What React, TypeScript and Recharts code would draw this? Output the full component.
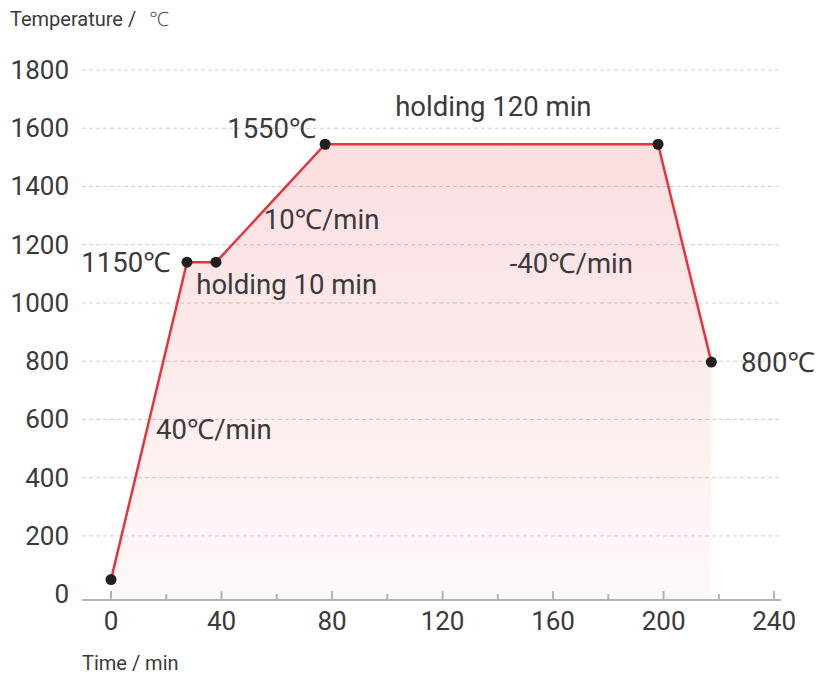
import React from 'react';
import { ComposedChart, Area, Line, XAxis, YAxis, CartesianGrid, ReferenceDot } from 'recharts';

const timeMin = [0, 27.5, 38, 77.5, 198, 217.3];
const tempC = [50, 1140, 1140, 1545, 1545, 797];

const xTicks = [0, 20, 40, 60, 80, 100, 120, 140, 160, 180, 200, 220, 240];
const yTicks = [0, 200, 400, 600, 800, 1000, 1200, 1400, 1600, 1800];
const gridValues = [200, 400, 600, 800, 1000, 1200, 1400, 1600, 1800];

const noteText = ['1550℃', 'holding 120 min', '10℃/min', '-40℃/min', '1150℃', 'holding 10 min', '40℃/min', '800℃'];
const noteX = [58.2, 138.4, 76.2, 166.6, 5.4, 63.6, 37.2, 241.4];
const noteY = [1599, 1675, 1288, 1137, 1140, 1065, 565, 795];

const data = timeMin.map((t, i) => ({ t, temp: tempC[i] }));
const notes = noteText.map((text, i) => ({ text, x: noteX[i], y: noteY[i] }));

const FONT = 'Roboto, "Noto Sans", sans-serif';
const TEXT = '#3a3a3a';

const XTick = (props: any) => {
  const { x, y, payload } = props;
  const major = payload.value % 40 === 0;
  return (
    <g>
      <line x1={x} x2={x} y1={y} y2={y - (major ? 9 : 6)} stroke="#b3b3b3" strokeWidth={2} />
      {major && (
        <text x={x} y={y + 21} textAnchor="middle" dominantBaseline="central" fontSize={26} fill={TEXT} fontFamily={FONT}>
          {payload.value}
        </text>
      )}
    </g>
  );
};

const YTick = (props: any) => {
  const { y, payload } = props;
  return (
    <text x={69} y={y} textAnchor="end" dominantBaseline="central" fontSize={26} fill={TEXT} fontFamily={FONT}>
      {payload.value}
    </text>
  );
};

export default function App() {
  return (
    <div style={{ position: 'absolute', left: 0, top: 0, width: 819, height: 678, background: '#fff', fontFamily: FONT }}>
      <div style={{ position: 'absolute', left: 10, top: 6, fontSize: 20, color: TEXT, lineHeight: '26px', whiteSpace: 'nowrap' }}>
        Temperature / <span style={{ marginLeft: 8, fontWeight: 300, color: '#555' }}>℃</span>
      </div>
      <div style={{ position: 'absolute', left: 82, top: 650, fontSize: 20, color: TEXT, lineHeight: '26px', whiteSpace: 'nowrap' }}>
        Time / min
      </div>
      <ComposedChart width={819} height={678} data={data} margin={{ top: 70, right: 38, bottom: 0, left: 0 }}>
        <defs>
          <linearGradient id="heatFill" x1="0" y1="0" x2="0" y2="1">
            <stop offset="0%" stopColor="rgb(230,50,60)" stopOpacity={0.16} />
            <stop offset="100%" stopColor="rgb(230,50,60)" stopOpacity={0.03} />
          </linearGradient>
        </defs>
        <CartesianGrid vertical={false} horizontalValues={gridValues} stroke="#cfcfcf" strokeDasharray="4 3" />
        <XAxis
          dataKey="t"
          type="number"
          domain={[-10.5, 242.5]}
          ticks={xTicks}
          interval={0}
          height={78}
          tickSize={0}
          tickMargin={0}
          tickLine={false}
          axisLine={{ stroke: '#b3b3b3', strokeWidth: 2 }}
          tick={<XTick />}
        />
        <YAxis
          type="number"
          domain={[-20, 1800]}
          ticks={yTicks}
          interval={0}
          width={82}
          axisLine={false}
          tickLine={false}
          tick={<YTick />}
        />
        <Area
          type="linear"
          dataKey="temp"
          baseValue="dataMin"
          stroke="none"
          fill="url(#heatFill)"
          fillOpacity={1}
          isAnimationActive={false}
          activeDot={false}
        />
        <Line
          type="linear"
          dataKey="temp"
          stroke="#e8333d"
          strokeWidth={2.5}
          dot={{ r: 5.5, fill: '#231f20', stroke: 'none' }}
          activeDot={false}
          isAnimationActive={false}
        />
        {notes.map((n) => (
          <ReferenceDot
            key={n.text}
            x={n.x}
            y={n.y}
            r={0}
            fill="none"
            stroke="none"
            ifOverflow="visible"
            label={{ value: n.text, position: 'center', fontSize: 27.5, fill: TEXT, fontFamily: FONT }}
          />
        ))}
      </ComposedChart>
    </div>
  );
}
